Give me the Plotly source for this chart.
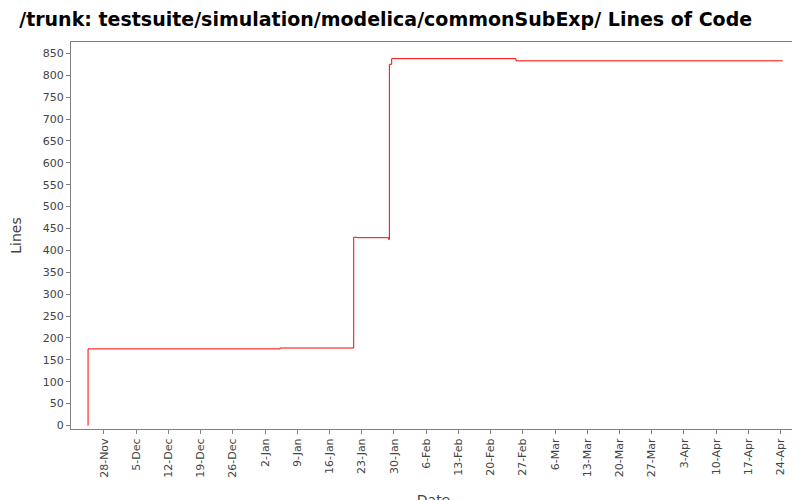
import plotly.graph_objects as go

# step data
dates = ["2008-11-24 12:00", "2008-11-24 13:00", "2009-01-05 06:00", "2009-01-21 06:00",
         "2009-01-22 00:00", "2009-01-28 20:00", "2009-01-29 00:00", "2009-01-29 12:00",
         "2009-02-25 12:00", "2009-04-24 10:00"]
lines = [0, 175, 177, 430, 429, 425, 825, 838, 833, 833]

tick_dates = ["2008-11-28", "2008-12-05", "2008-12-12", "2008-12-19", "2008-12-26",
              "2009-01-02", "2009-01-09", "2009-01-16", "2009-01-23", "2009-01-30",
              "2009-02-06", "2009-02-13", "2009-02-20", "2009-02-27", "2009-03-06",
              "2009-03-13", "2009-03-20", "2009-03-27", "2009-04-03", "2009-04-10",
              "2009-04-17", "2009-04-24"]
tick_labels = ["28-Nov", "5-Dec", "12-Dec", "19-Dec", "26-Dec", "2-Jan", "9-Jan", "16-Jan",
               "23-Jan", "30-Jan", "6-Feb", "13-Feb", "20-Feb", "27-Feb", "6-Mar", "13-Mar",
               "20-Mar", "27-Mar", "3-Apr", "10-Apr", "17-Apr", "24-Apr"]

fig = go.Figure(go.Scatter(x=dates, y=lines, mode="lines", line_shape="hv",
                           line=dict(color="red", width=1)))

axis_font = dict(family="DejaVu Sans", size=11, color="#444")
fig.update_layout(
    width=800, height=500,
    paper_bgcolor="white", plot_bgcolor="white",
    margin=dict(l=63, r=12, t=34, b=79),
    showlegend=False,
    title=dict(text="<b>/trunk: testsuite/simulation/modelica/commonSubExp/ Lines of Code</b>",
               x=0.014, xanchor="left", y=0.99, yanchor="top",
               font=dict(family="DejaVu Sans", size=19, color="black")),
)
fig.update_xaxes(
    automargin=False,
    range=["2008-11-20 20:00", "2009-04-27 08:00"],
    tickvals=tick_dates, ticktext=tick_labels, tickangle=-90,
    ticks="outside", ticklen=4, tickcolor="gray", tickfont=axis_font,
    showgrid=False, showline=True, linecolor="gray", mirror=True, zeroline=False,
    title=dict(text="Date", font=dict(family="DejaVu Sans", size=14, color="#444"), standoff=48),
)
fig.update_yaxes(
    automargin=False,
    range=[-8, 876], dtick=50,
    ticks="outside", ticklen=4, tickcolor="gray", tickfont=axis_font,
    showgrid=False, showline=True, linecolor="gray", mirror=True, zeroline=False,
    title=dict(text="Lines", font=dict(family="DejaVu Sans", size=14, color="#444"), standoff=30),
)

fig.write_html("out.html")
